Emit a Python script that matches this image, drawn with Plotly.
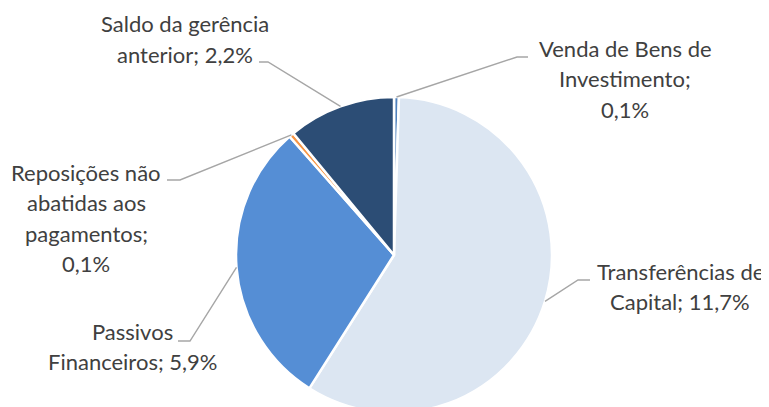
import math
import plotly.graph_objects as go

# ---- data ----
categories = [
    "Venda de Bens de Investimento",
    "Transferências de Capital",
    "Passivos Financeiros",
    "Reposições não abatidas aos pagamentos",
    "Saldo da gerência anterior",
]
values = [0.1, 11.7, 5.9, 0.1, 2.2]
colors = ["#4F81BD", "#DCE6F2", "#558ED5", "#F79646", "#2C4D75"]

# label line layouts ({v} replaced by formatted value)
label_templates = [
    ["Venda de Bens de", "Investimento;", "{v}"],
    ["Transferências de", "Capital; {v}"],
    ["Passivos", "Financeiros; {v}"],
    ["Reposições não", "abatidas aos", "pagamentos;", "{v}"],
    ["Saldo da gerência", "anterior; {v}"],
]

# ---- layout geometry (page pixels) ----
W, H = 769, 407
OFF = 8  # default body margin of the html page
CX, CY, R = 394, 255, 158
label_centers = [(625, 48), (680, 271), (133, 331), (86, 172), (185, 24)]
LINE_GAP = 30.5
leader_knees = [((517, 57), (528, 57)),
                ((578, 280), (590, 280)),
                ((190, 341), (178, 341)),
                ((180, 180), (167, 180)),
                ((268, 62), (259, 62))]

FONT = "Lato"
FS = 22
TXT = "#404040"


def px(x, y):
    return (x - OFF) / W, 1 - (y - OFF) / H


x0, y0 = px(CX - R, CY + R)
x1, y1 = px(CX + R, CY - R)

fig = go.Figure(go.Pie(
    labels=categories,
    values=values,
    sort=False,
    direction="clockwise",
    rotation=0,
    marker=dict(colors=colors, line=dict(color="white", width=2.5)),
    textinfo="none",
    hoverinfo="label+percent",
    domain=dict(x=[x0, x1], y=[y0, y1]),
))

total = sum(values)
cum = 0.0
shapes, annotations = [], []
for i, v in enumerate(values):
    theta = 2 * math.pi * (cum + v / 2) / total
    cum += v
    sx = CX + R * math.sin(theta)
    sy = CY - R * math.cos(theta)
    (bx, by), (ex, ey) = leader_knees[i]
    p0, p1, p2 = px(sx, sy), px(bx, by), px(ex, ey)
    shapes.append(dict(
        type="path", xref="paper", yref="paper",
        path=f"M {p0[0]},{p0[1]} L {p1[0]},{p1[1]} L {p2[0]},{p2[1]}",
        line=dict(color="#A6A6A6", width=1.4),
    ))
    vs = f"{v:.1f}".replace(".", ",") + "%"
    lx, ly = label_centers[i]
    for j, t in enumerate(label_templates[i]):
        ax, ay = px(lx, ly + j * LINE_GAP)
        annotations.append(dict(
            text=t.replace("{v}", vs), x=ax, y=ay, xref="paper", yref="paper",
            xanchor="center", yanchor="middle", showarrow=False,
            font=dict(family=FONT, size=FS, color=TXT),
        ))

fig.update_layout(
    width=W, height=H,
    margin=dict(l=0, r=0, t=0, b=0),
    paper_bgcolor="white", plot_bgcolor="white",
    showlegend=False,
    shapes=shapes,
    annotations=annotations,
)

fig.write_html("out.html")
